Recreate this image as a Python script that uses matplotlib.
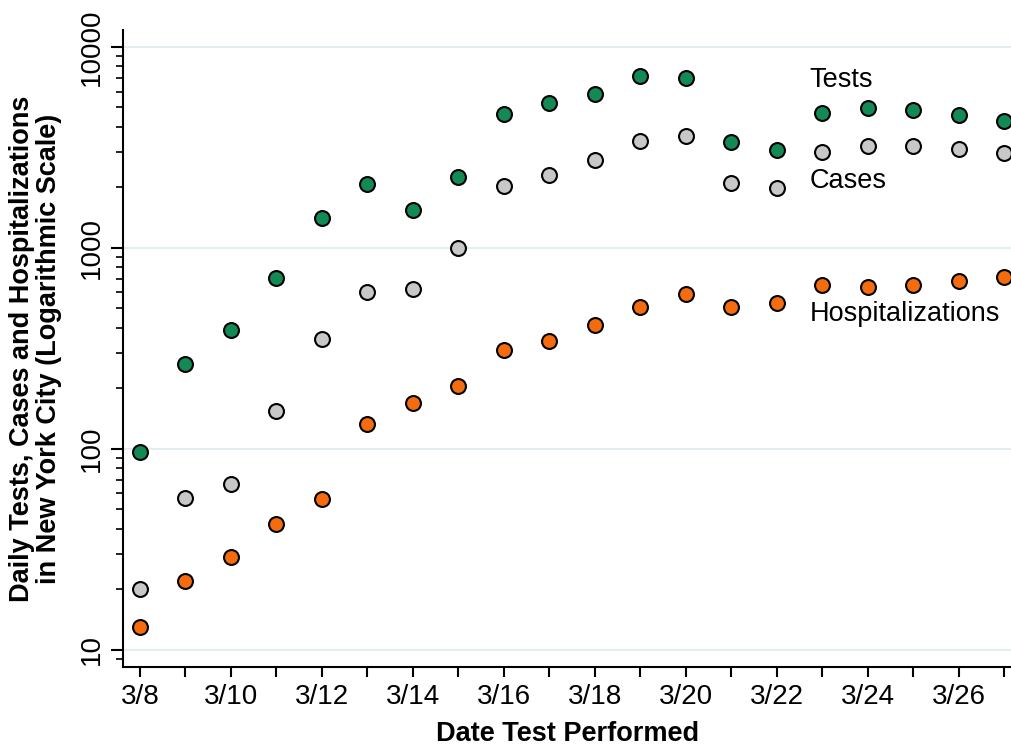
import matplotlib
matplotlib.use("Agg")
import matplotlib.pyplot as plt
from matplotlib.ticker import FixedLocator, NullFormatter, LogLocator

plt.rcParams['font.family'] = ['Liberation Sans', 'DejaVu Sans']

days = list(range(8, 28))
tick_labels = [f"3/{d}" for d in days]

tests = [96, 265, 391, 709, 1409, 2080, 1545, 2255, 4645, 5265, 5830, 7170, 7010,
         3368, 3073, 4695, 4975, 4860, 4590, 4285]
cases = [20, 57, 67, 155, 352, 604, 625, 1000, 2033, 2306, 2740, 3405, 3606,
         2105, 1989, 3006, 3217, 3217, 3111, 2972]
hosp = [13, 22, 29, 42, 56, 133, 169, 206, 311, 345, 414, 509, 590,
        509, 532, 654, 640, 654, 685, 718]

series_names = ["Tests", "Cases", "Hospitalizations"]
colors = ["#138a56", "#c8c8c8", "#f56c0f"]

fig = plt.figure(figsize=(10.12, 7.48), dpi=100)
ax = fig.add_axes([0.1215, 0.1083, 0.8785, 0.8517])

for vals, c in zip([tests, cases, hosp], colors):
    ax.scatter(days, vals, s=115, facecolor=c, edgecolor="black", linewidth=1.5, zorder=3)

ax.set_yscale("log")
ax.set_ylim(8.2, 12160)
ax.set_xlim(8 - 0.37, 27 + 0.17)

ax.yaxis.set_major_locator(FixedLocator([10, 100, 1000, 10000]))
ax.set_yticklabels(["10", "100", "1000", "10000"], rotation=90, va="center", fontsize=20)
ax.yaxis.set_minor_locator(LogLocator(base=10, subs=range(2, 10)))
ax.yaxis.set_minor_formatter(NullFormatter())
ax.tick_params(axis="y", which="major", length=9, width=1.5, direction="out", pad=4)
ax.tick_params(axis="y", which="minor", length=5, width=1.2, direction="out")

ax.set_xticks(days)
ax.set_xticklabels([l if (d % 2 == 0) else "" for d, l in zip(days, tick_labels)], fontsize=20)
ax.tick_params(axis="x", which="major", length=7, width=1.5, direction="out", pad=5)

for s in ["top", "right"]:
    ax.spines[s].set_visible(False)
for s in ["left", "bottom"]:
    ax.spines[s].set_linewidth(1.5)

ax.grid(axis="y", which="major", color="#e4eef0", linewidth=1.5, zorder=0)
ax.set_axisbelow(True)

ax.set_xlabel("Date Test Performed", fontsize=19.5, fontweight="bold", labelpad=8)
ax.set_ylabel("Daily Tests, Cases and Hospitalizations\nin New York City (Logarithmic Scale)",
              fontsize=19.5, fontweight="bold", labelpad=12, linespacing=1.05)

label_x = 22.72
label_y = [6855, 2153, 470]
for name, y in zip(series_names, label_y):
    ax.text(label_x, y, name, fontsize=19.5, va="center", ha="left", zorder=4)

fig.savefig("out.png", dpi=100)
